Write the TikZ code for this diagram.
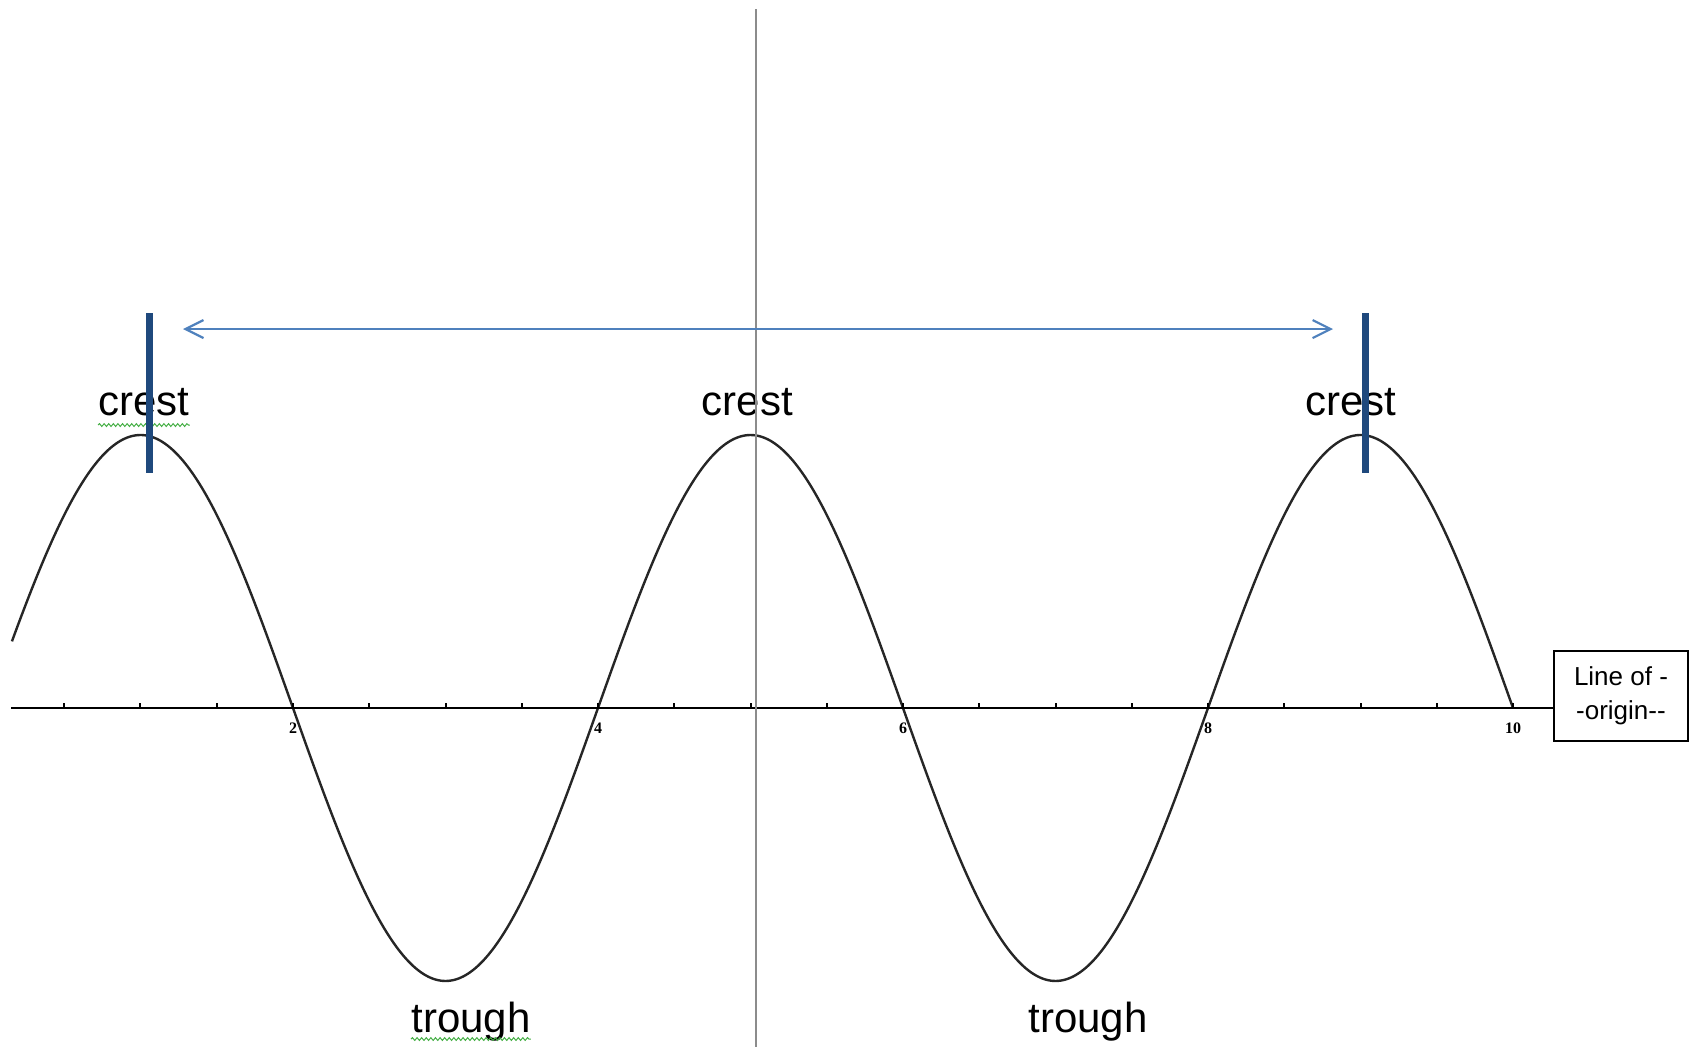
\documentclass[tikz,border=0pt]{standalone}
\usepackage{fontspec}
\setmainfont{Liberation Sans}
\newfontfamily\tickfont{Liberation Serif}
\definecolor{spanblue}  {RGB}{79,129,189}
\definecolor{barblue}   {RGB}{31,73,125}
\definecolor{axisgray}  {RGB}{140,140,140}
\definecolor{spellgreen}{RGB}{70,175,70}
\usetikzlibrary{arrows.meta,positioning,decorations.pathmorphing}
\tikzset{
  wavelbl/.style={font=\fontsize{21}{24}\selectfont,inner sep=0pt,anchor=base},
  crestbar/.style={rectangle,fill=barblue,minimum width=3.5pt,
                   minimum height=80pt,inner sep=0pt},
  span/.style={{Straight Barb[length=9pt,width=9pt]}-{Straight Barb[length=9pt,width=9pt]},
               line width=1.1pt,spanblue},
  spell/.style={spellgreen,line width=0.5pt,decorate,
                decoration={snake,amplitude=0.7pt,segment length=2.3pt}},
  refbox/.style={rectangle,draw=black,line width=0.9pt,minimum width=67pt,
                 minimum height=45pt,font=\fontsize{13}{17}\selectfont,
                 align=center,inner sep=2pt},
  ticklbl/.style={font=\tickfont\fontsize{8}{8}\selectfont\bfseries,inner sep=0pt},
}
\begin{document}
\begin{tikzpicture}[x=76.25pt,y=136.5pt]
  \useasboundingbox (0.0787,-1.2418) rectangle (11.1738,2.5934);
  % wave
  \draw[line width=1.2pt,black!85] plot[domain=0.157:10,samples=300,smooth]
    (\x,{sin(90*\x)});
  % line of origin
  \node[refbox] (lineorig) at (10.708,0.044) {Line of -\\-origin-{}-};
  \coordinate (axl) at (0.151,0);
  \draw[line width=1pt] (axl) -- (axl -| lineorig.west);
  \foreach \t in {0.5,1,...,10}
    \draw[line width=1pt] (\t,0) -- ++(0,2.5pt);
  \foreach \n in {2,4,6,8,10}
    \node[ticklbl] (n\n) at (\n,-0.075) {\n};
  % labels
  \node[wavelbl] (c1) at (1.023,1.073) {crest};
  \node[wavelbl] (c2) at (4.98,1.073) {crest};
  \node[wavelbl] (c3) at (8.938,1.073) {crest};
  \node[wavelbl] (t1) at (3.167,-1.187) {trough};
  \node[wavelbl] (t2) at (7.213,-1.187) {trough};
  \draw[spell] ([yshift=-5pt]c1.base west) -- ([yshift=-5pt]c1.base east);
  \draw[spell] ([yshift=-3.5pt]t1.base west) -- ([yshift=-3.5pt]t1.base east);
  % vertical axis
  \coordinate (ytop) at (5.036,2.56);
  \coordinate (ybot) at (5.036,-1.2418);
  \draw[axisgray,line width=1pt] (ytop) -- (ybot);
  % wavelength
  \node[crestbar] (lbar) at (1.056,1.154) {};
  \node[crestbar] (rbar) at (9.030,1.154) {};
  \coordinate (al) at (1.279,1.388);
  \coordinate (ar) at (8.82,1.388);
  \draw[span] (al) -- (ar);
\end{tikzpicture}
\end{document}
